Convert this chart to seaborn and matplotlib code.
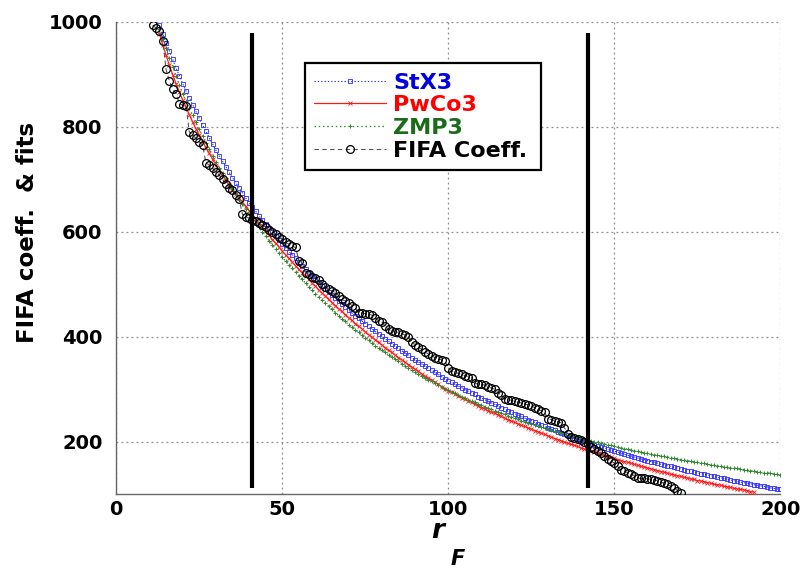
import numpy as np
import pandas as pd
import matplotlib
matplotlib.use("Agg")
import matplotlib.pyplot as plt
from matplotlib.ticker import MultipleLocator, FixedLocator
import seaborn as sns

# ---------------- data ----------------
fifa_r = np.arange(11, 171)
fifa_coeff = [
    993, 988, 982, 963, 909, 887, 872, 863, 844, 841,
    840, 790, 784, 778, 771, 765, 731, 727, 721, 714,
    708, 700, 691, 684, 679, 670, 662, 633, 628, 626,
    623, 620, 616, 612, 608, 604, 600, 595, 590, 587,
    580, 576, 572, 570, 545, 541, 522, 519, 514, 511,
    508, 500, 494, 490, 487, 484, 478, 471, 468, 465,
    459, 455, 446, 445, 444, 443, 441, 436, 430, 428,
    420, 414, 411, 409, 408, 406, 403, 400, 389, 385,
    380, 376, 371, 367, 364, 360, 358, 356, 353, 341,
    335, 332, 330, 328, 326, 324, 322, 311, 310, 309,
    308, 305, 302, 300, 293, 289, 282, 280, 279, 277,
    275, 274, 272, 270, 268, 265, 262, 259, 256, 244,
    242, 240, 238, 236, 226, 215, 209, 207, 205, 204,
    200, 196, 190, 186, 182, 178, 172, 167, 163, 159,
    153, 146, 144, 141, 139, 135, 131, 130, 130, 129,
    128, 127, 126, 123, 121, 119, 115, 112, 107, 103,
]

stx3_r = np.arange(13, 201)
stx3 = [
    993, 976, 960, 944, 928, 912, 897, 882,
    868, 855, 842, 829, 816, 803, 791, 779, 767, 755,
    744, 734, 724, 713, 703, 693, 684, 674, 664, 655,
    647, 639, 630, 622, 615, 607, 599, 591, 584, 576,
    569, 562, 556, 549, 542, 535, 529, 522, 516, 510,
    504, 497, 491, 485, 479, 474, 468, 462, 456, 451,
    445, 440, 435, 430, 425, 420, 415, 410, 405, 401,
    396, 391, 387, 382, 378, 373, 369, 365, 360, 356,
    352, 348, 344, 340, 336, 332, 328, 324, 320, 316,
    313, 309, 306, 303, 299, 296, 293, 290, 286, 283,
    280, 277, 274, 271, 268, 265, 262, 259, 256, 253,
    251, 248, 245, 242, 240, 237, 234, 232, 229, 227,
    224, 222, 219, 217, 214, 212, 210, 207, 205, 203,
    201, 198, 196, 194, 192, 190, 188, 186, 184, 182,
    180, 178, 176, 174, 173, 171, 169, 167, 166, 164,
    162, 161, 159, 157, 156, 154, 153, 151, 150, 148,
    147, 145, 144, 142, 141, 139, 138, 137, 135, 134,
    132, 131, 130, 128, 127, 126, 125, 123, 122, 121,
    120, 118, 117, 116, 115, 114, 112, 111, 110, 109,
]

pwco3_r = np.arange(13, 193)
pwco3 = [
    977, 956, 936, 917, 899, 882, 866, 851,
    837, 823, 809, 796, 784, 772, 760, 749, 738, 727,
    717, 707, 698, 689, 681, 672, 664, 656, 648, 640,
    632, 624, 616, 608, 601, 593, 585, 578, 571, 563,
    556, 549, 542, 535, 528, 522, 515, 509, 502, 496,
    489, 483, 477, 471, 465, 459, 453, 448, 442, 436,
    431, 425, 420, 415, 409, 404, 399, 394, 389, 384,
    379, 374, 370, 365, 360, 356, 351, 347, 342, 338,
    334, 329, 325, 321, 317, 313, 309, 305, 301, 297,
    294, 291, 287, 284, 281, 278, 275, 271, 268, 265,
    262, 259, 256, 254, 251, 248, 245, 242, 239, 237,
    234, 231, 229, 226, 224, 221, 219, 216, 214, 211,
    209, 206, 204, 202, 199, 197, 195, 193, 191, 188,
    186, 184, 182, 180, 178, 176, 174, 172, 170, 168,
    166, 164, 162, 161, 159, 157, 155, 153, 152, 150,
    148, 147, 145, 143, 142, 140, 138, 137, 135, 134,
    132, 131, 129, 128, 126, 125, 124, 122, 121, 119,
    118, 117, 115, 114, 113, 111, 110, 109, 108, 107,
    105, 104,
]

zmp3_r = np.arange(13, 201)
zmp3 = [
    986, 967, 949, 931, 914, 897, 880, 863,
    849, 835, 822, 808, 795, 782, 769, 757, 744, 732,
    722, 711, 701, 691, 681, 671, 661, 652, 643, 633,
    625, 616, 608, 599, 591, 583, 575, 567, 559, 552,
    544, 537, 530, 523, 516, 509, 502, 495, 489, 482,
    476, 470, 464, 458, 452, 446, 440, 434, 429, 423,
    418, 413, 408, 403, 398, 393, 388, 383, 379, 374,
    370, 365, 361, 357, 353, 348, 344, 340, 336, 333,
    329, 325, 322, 318, 315, 311, 308, 305, 301, 298,
    295, 292, 289, 286, 283, 280, 277, 275, 272, 269,
    267, 264, 262, 259, 257, 254, 252, 249, 247, 245,
    243, 240, 238, 236, 234, 232, 230, 228, 226, 224,
    222, 220, 219, 217, 215, 213, 212, 210, 208, 206,
    205, 203, 202, 200, 199, 197, 196, 194, 193, 191,
    190, 188, 187, 186, 184, 183, 182, 180, 179, 178,
    177, 175, 174, 173, 172, 171, 169, 168, 167, 166,
    165, 164, 163, 162, 161, 160, 159, 158, 156, 155,
    154, 153, 152, 151, 150, 150, 149, 148, 147, 146,
    145, 144, 143, 142, 141, 141, 140, 139, 138, 137,
]

cut_r = [41, 142]
series_names = ["StX3", "PwCo3", "ZMP3", "FIFA Coeff."]
x_ticks = [0, 50, 100, 150, 200]
y_ticks = [200, 400, 600, 800, 1000]

# ---------------- style ----------------
sns.set_theme(style="white")
plt.rcParams["font.family"] = ["DejaVu Sans"]
plt.rcParams["mathtext.fontset"] = "custom"
plt.rcParams["mathtext.it"] = "DejaVu Sans:italic:bold"
plt.rcParams["mathtext.rm"] = "DejaVu Sans:bold"

BLUE = "#2a2aff"
RED = "#ff1a1a"
GREEN = "#2f8a2f"
TXT = {"StX3": "#0000e0", "PwCo3": "#ff0000", "ZMP3": "#1b6b1b", "FIFA Coeff.": "#000000"}

fig = plt.figure(figsize=(8.03, 5.69), dpi=100)
fig.patch.set_facecolor("white")
ax = fig.add_axes([0.1448, 0.1315, 0.9717 - 0.1448, 0.9619 - 0.1315])
ax.set_facecolor("white")

sns.lineplot(x=stx3_r, y=stx3, ax=ax, color=BLUE, linestyle=(0, (1.2, 1.8)),
             linewidth=0.8, marker="s", markersize=3.3, markerfacecolor="none",
             markeredgecolor=BLUE, markeredgewidth=0.6, label=series_names[0],
             estimator=None, sort=False, zorder=3)
sns.lineplot(x=pwco3_r, y=pwco3, ax=ax, color=RED, linestyle="-",
             linewidth=0.9, marker="x", markersize=2.6,
             markeredgecolor=RED, markeredgewidth=0.6, label=series_names[1],
             estimator=None, sort=False, zorder=3)
sns.lineplot(x=zmp3_r, y=zmp3, ax=ax, color=GREEN, linestyle=(0, (1.2, 2.2)),
             linewidth=0.9, marker="+", markersize=3.4,
             markeredgecolor=GREEN, markeredgewidth=0.7, label=series_names[2],
             estimator=None, sort=False, zorder=3)
sns.lineplot(x=fifa_r, y=fifa_coeff, ax=ax, color="#555555", linestyle=(0, (4, 3)),
             linewidth=0.8, marker="o", markersize=5.6, markerfacecolor="none",
             markeredgecolor="black", markeredgewidth=0.9, label=series_names[3],
             estimator=None, sort=False, zorder=4)

ax.vlines(cut_r, ymin=112, ymax=978, colors="black", linewidth=3.0, zorder=6)

ax.set_xlim(0, 200)
ax.set_ylim(100, 1000)
ax.xaxis.set_major_locator(FixedLocator(x_ticks))
ax.yaxis.set_major_locator(FixedLocator(y_ticks))
ax.xaxis.set_minor_locator(MultipleLocator(10))
ax.yaxis.set_minor_locator(MultipleLocator(50))

ax.grid(True, which="major", color="#8c8c8c", linestyle=(0, (1.5, 2.5)), linewidth=0.9)
for side in ["top", "right"]:
    ax.spines[side].set_visible(False)
for side in ["left", "bottom"]:
    ax.spines[side].set_color("#666666")
    ax.spines[side].set_linewidth(1.0)

ax.tick_params(which="both", direction="in", length=5, width=0.8, color="#777777",
               top=False, right=False)
ax.tick_params(axis="x", which="major", pad=4, labelsize=14)
ax.tick_params(axis="y", which="major", pad=10, labelsize=14)
for lab in ax.get_xticklabels() + ax.get_yticklabels():
    lab.set_fontweight("bold")
    lab.set_color("black")

xl = ax.set_xlabel("$r$", fontsize=19, color="black")
ax.xaxis.set_label_coords(0.487, -0.050)
ax.annotate("$F$", xy=(1.0, 0.0), xycoords=xl, xytext=(1.5, -3.5), textcoords="offset points",
            ha="left", va="top", fontsize=15, color="black")
ax.set_ylabel("FIFA coeff.  & fits", fontsize=16.5, fontweight="bold", color="black")
ax.yaxis.set_label_coords(-0.117, 0.554)

handles, labels = ax.get_legend_handles_labels()
leg = ax.legend(handles, labels, loc="upper left", bbox_to_anchor=(0.284, 0.9126, 0.355, 0.0),
                mode="expand", frameon=True, fancybox=False, framealpha=1,
                edgecolor="black", borderpad=0.43, handlelength=3.2, handletextpad=0.35,
                labelspacing=0.12, borderaxespad=0,
                prop={"weight": "bold", "size": 16})
leg.get_frame().set_linewidth(1.6)
for t in leg.get_texts():
    t.set_color(TXT[t.get_text()])

fig.savefig("out.png", dpi=100, facecolor="white")
